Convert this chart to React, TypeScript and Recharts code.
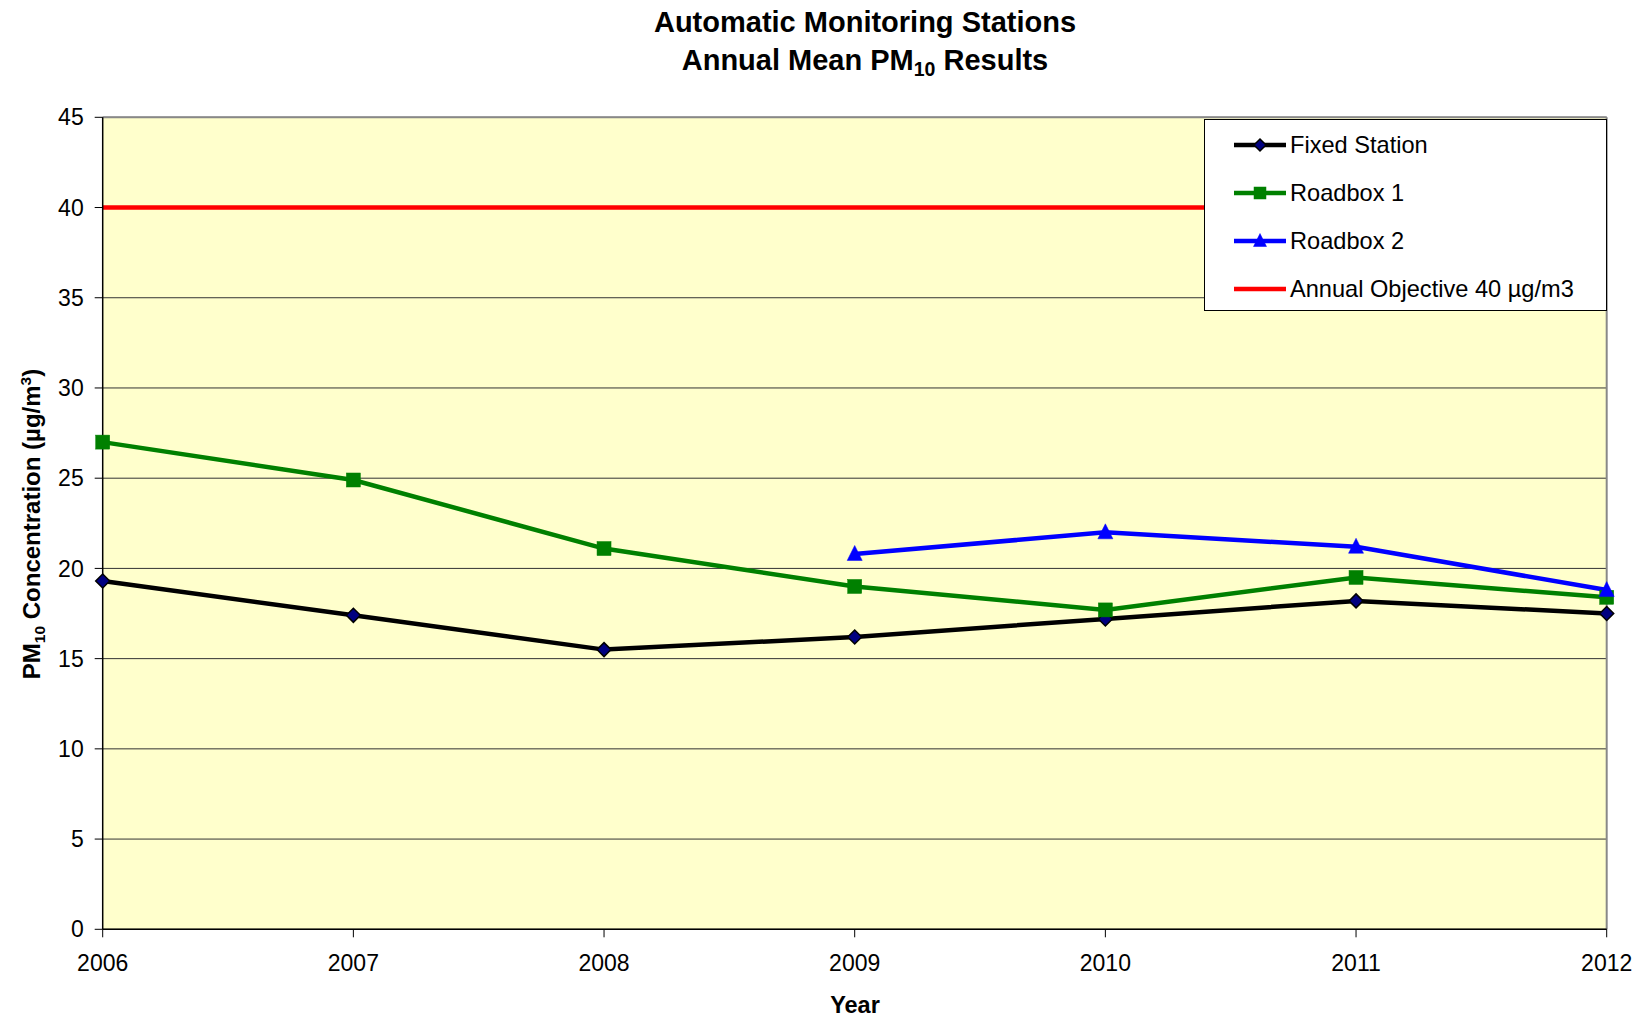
import React from 'react';
import { LineChart, Line, XAxis, YAxis, CartesianGrid, ReferenceLine, Legend } from 'recharts';

const years = [2006, 2007, 2008, 2009, 2010, 2011, 2012];
const fixedStation = [19.3, 17.4, 15.5, 16.2, 17.2, 18.2, 17.5];
const roadbox1 = [27.0, 24.9, 21.1, 19.0, 17.7, 19.5, 18.4];
const roadbox2: (number | null)[] = [null, null, null, 20.8, 22.0, 21.2, 18.8];
const objective = [40, 40, 40, 40, 40, 40, 40];
const yTicks = [0, 5, 10, 15, 20, 25, 30, 35, 40, 45];

const data = years.map((y, i) => ({
  year: y,
  fixed: fixedStation[i],
  rb1: roadbox1[i],
  rb2: roadbox2[i],
  obj: objective[i],
}));

const FONT = '"Liberation Sans", Arial, sans-serif';

const Diamond = (props: any) => {
  const { cx, cy, s = 7 } = props;
  if (cx == null || cy == null || isNaN(cy)) return null;
  return (
    <polygon
      points={`${cx},${cy - s} ${cx + s},${cy} ${cx},${cy + s} ${cx - s},${cy}`}
      fill="#000080"
      stroke="#000"
      strokeWidth={1.5}
    />
  );
};
const Square = (props: any) => {
  const { cx, cy, s = 7 } = props;
  if (cx == null || cy == null || isNaN(cy)) return null;
  return <rect x={cx - s} y={cy - s} width={2 * s} height={2 * s} fill="#008000" stroke="#008000" strokeWidth={0.5} />;
};
const Triangle = (props: any) => {
  const { cx, cy, s = 7.5 } = props;
  if (cx == null || cy == null || isNaN(cy)) return null;
  return (
    <polygon
      points={`${cx},${cy - s - 1} ${cx + s},${cy + s - 1} ${cx - s},${cy + s - 1}`}
      fill="#0000FF"
      stroke="#0000FF"
      strokeWidth={0.5}
    />
  );
};

const legendItems = [
  { name: 'Fixed Station', color: '#000000', marker: 'diamond' },
  { name: 'Roadbox 1', color: '#008000', marker: 'square' },
  { name: 'Roadbox 2', color: '#0000FF', marker: 'triangle' },
  { name: 'Annual Objective 40 µg/m3', color: '#FF0000', marker: 'none' },
];

const renderLegend = () => (
  <div style={{ paddingTop: 1, fontFamily: FONT, fontSize: 23.6, color: '#000' }}>
    {legendItems.map((it) => (
      <div key={it.name} style={{ display: 'flex', alignItems: 'center', height: 48, paddingLeft: 28 }}>
        <svg width={54} height={20} style={{ display: 'block' }}>
          <line x1={1} y1={10} x2={53} y2={10} stroke={it.color} strokeWidth={4.5} />
          {it.marker === 'diamond' && <Diamond cx={27} cy={10} s={6} />}
          {it.marker === 'square' && <Square cx={27} cy={10} s={6} />}
          {it.marker === 'triangle' && <Triangle cx={27} cy={10} s={6.5} />}
        </svg>
        <span style={{ marginLeft: 3, whiteSpace: 'nowrap' }}>{it.name}</span>
      </div>
    ))}
  </div>
);

const YLabel = () => (
  <text
    transform="translate(40,524) rotate(-90)"
    textAnchor="middle"
    fontFamily={FONT}
    fontWeight="bold"
    fontSize={24}
    fill="#000"
  >
    PM
    <tspan fontSize={15.5} dy={5}>10</tspan>
    <tspan dy={-5}> Concentration (µg/m</tspan>
    <tspan fontSize={15.5} dy={-9}>3</tspan>
    <tspan dy={9}>)</tspan>
  </text>
);

const XLabel = () => (
  <text x={855} y={1013} textAnchor="middle" fontFamily={FONT} fontWeight="bold" fontSize={23.5} fill="#000">
    Year
  </text>
);

export default function App() {
  return (
    <div style={{ position: 'absolute', left: 0, top: 0, width: 1638, height: 1018, background: '#fff' }}>
      <svg width={1638} height={100} style={{ position: 'absolute', left: 0, top: 0 }}>
        <text x={865} y={32} textAnchor="middle" fontFamily={FONT} fontWeight="bold" fontSize={29} fill="#000">
          Automatic Monitoring Stations
        </text>
        <text x={865} y={70} textAnchor="middle" fontFamily={FONT} fontWeight="bold" fontSize={29} fill="#000">
          Annual Mean PM<tspan fontSize={19.5} dy={6}>10</tspan>
          <tspan dy={-6}> Results</tspan>
        </text>
      </svg>
      <div style={{ position: 'absolute', left: 0, top: 0 }}>
        <LineChart
          width={1638}
          height={1018}
          data={data}
          margin={{ top: 117.3, right: 31.3, left: 12.7, bottom: 28.7 }}
        >
          <CartesianGrid
            horizontal
            vertical={false}
            stroke="#333"
            strokeWidth={1}
            fill="#FFFFCC"
            fillOpacity={1}
          />
          <XAxis
            dataKey="year"
            type="number"
            domain={[2006, 2012]}
            ticks={years}
            allowDecimals={false}
            height={60}
            tickSize={8}
            tickMargin={17}
            stroke="#000"
            axisLine={{ stroke: '#000', strokeWidth: 1.5 }}
            tickLine={{ stroke: '#000' }}
            tick={{ fill: '#000', fontSize: 23, fontFamily: FONT }}
            label={<XLabel />}
          />
          <YAxis
            type="number"
            domain={[0, 45]}
            ticks={yTicks}
            width={90}
            tickSize={8}
            tickMargin={11}
            interval={0}
            axisLine={{ stroke: '#000', strokeWidth: 1.5 }}
            tickLine={{ stroke: '#000' }}
            tick={{ fill: '#000', fontSize: 23, fontFamily: FONT }}
            label={<YLabel />}
          />
          <ReferenceLine y={45} stroke="#888" strokeWidth={2} />
          <ReferenceLine x={2012} stroke="#888" strokeWidth={2} />
          <Legend
            layout="vertical"
            align="center"
            verticalAlign="middle"
            content={renderLegend}
            wrapperStyle={{
              left: 1204,
              top: 119,
              width: 403,
              height: 192,
              border: '1px solid #000',
              background: '#fff',
              boxSizing: 'border-box',
            }}
          />
          <Line
            name="Fixed Station"
            dataKey="fixed"
            stroke="#000000"
            strokeWidth={4.5}
            dot={(p: any) => <Diamond key={`d${p.index}`} cx={p.cx} cy={p.cy} />}
            activeDot={false}
            isAnimationActive={false}
          />
          <Line
            name="Roadbox 1"
            dataKey="rb1"
            stroke="#008000"
            strokeWidth={4.5}
            dot={(p: any) => <Square key={`s${p.index}`} cx={p.cx} cy={p.cy} />}
            activeDot={false}
            isAnimationActive={false}
          />
          <Line
            name="Roadbox 2"
            dataKey="rb2"
            stroke="#0000FF"
            strokeWidth={4.5}
            dot={(p: any) => <Triangle key={`t${p.index}`} cx={p.cx} cy={p.cy} />}
            activeDot={false}
            isAnimationActive={false}
          />
          <Line
            name="Annual Objective 40 µg/m3"
            dataKey="obj"
            stroke="#FF0000"
            strokeWidth={4.5}
            dot={false}
            activeDot={false}
            isAnimationActive={false}
          />
        </LineChart>
      </div>
    </div>
  );
}
